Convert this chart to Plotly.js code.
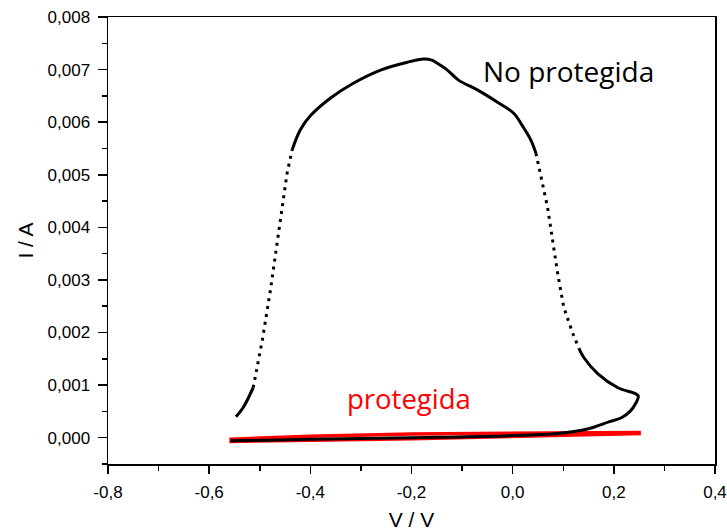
<!DOCTYPE html>
<html>
<head>
<meta charset="utf-8">
<script src="https://cdn.plot.ly/plotly-3.0.1.min.js"></script>
<style>html,body{margin:0;padding:0;background:#fff;}#chart{width:727px;height:531px;}</style>
</head>
<body>
<div id="chart"></div>
<script>
// "No protegida" curve, split into segments (solid where dense, dotted where sparse)
const npStartV = [-0.547, -0.533, -0.513];
const npStartI = [0.00040, 0.00057, 0.00095];
const npRiseV = [-0.513, -0.495, -0.479, -0.465, -0.455, -0.446, -0.436];
const npRiseI = [0.00095, 0.00185, 0.00280, 0.00375, 0.00450, 0.00503, 0.00547];
const npTopV = [-0.436, -0.420, -0.400, -0.360, -0.315, -0.261, -0.208, -0.176, -0.160, -0.149, -0.129, -0.107, -0.069, -0.030, 0.002, 0.020, 0.036, 0.046];
const npTopI = [0.00547, 0.00585, 0.00612, 0.00646, 0.00674, 0.00699, 0.00714, 0.00720, 0.00718, 0.00712, 0.00699, 0.00680, 0.00661, 0.00638, 0.00617, 0.00592, 0.00566, 0.00541];
const npFallV = [0.046, 0.055, 0.069, 0.079, 0.089, 0.101, 0.119, 0.131];
const npFallI = [0.00541, 0.00503, 0.00438, 0.00375, 0.00312, 0.00248, 0.00198, 0.00170];
const npTailV = [0.131, 0.141, 0.168, 0.208, 0.248, 0.243, 0.232, 0.215, 0.190, 0.150, 0.100, 0.000, -0.200, -0.400, -0.558];
const npTailI = [0.00170, 0.00152, 0.00122, 0.00095, 0.00080, 0.00065, 0.00050, 0.00038, 0.00030, 0.00017, 0.00009, 0.00004, 0.00000, -0.00003, -0.00006];

// "protegida" curve (thin loop)
const pV = [-0.560, -0.400, -0.200, 0.000, 0.250, 0.250, 0.000, -0.200, -0.400, -0.560];
const pI = [-0.00003, 0.00003, 0.00007, 0.00009, 0.00010, 0.00008, 0.00002, -0.00002, -0.00005, -0.00007];

const labels = ["No protegida", "protegida"];
const xTickVals = [-0.8, -0.6, -0.4, -0.2, 0.0, 0.2, 0.4];
const xTickText = ["-0,8", "-0,6", "-0,4", "-0,2", "0,0", "0,2", "0,4"];

const blackSolid = {color: '#000', width: 3};
const blackDot = {color: '#000', width: 3, dash: '3px,5px'};

const traces = [
  {x: pV, y: pI, mode: 'lines', line: {color: '#ff0000', width: 3.5}, hoverinfo: 'skip'},
  {x: npStartV, y: npStartI, mode: 'lines', line: Object.assign({shape: 'spline'}, blackSolid)},
  {x: npRiseV, y: npRiseI, mode: 'lines', line: blackDot},
  {x: npTopV, y: npTopI, mode: 'lines', line: Object.assign({shape: 'spline'}, blackSolid)},
  {x: npFallV, y: npFallI, mode: 'lines', line: blackDot},
  {x: npTailV, y: npTailI, mode: 'lines', line: Object.assign({shape: 'spline'}, blackSolid)}
];

const tickFont = {family: 'Liberation Sans, Arial, sans-serif', size: 17, color: '#000'};
const titleFont = {family: 'Liberation Sans, Arial, sans-serif', size: 21, color: '#000'};

const layout = {
  width: 727, height: 531,
  margin: {l: 108, r: 12, t: 17, b: 67},
  paper_bgcolor: '#fff', plot_bgcolor: '#fff',
  showlegend: false,
  separators: ',.',
  xaxis: {
    range: [-0.8, 0.4], tickmode: 'array', tickvals: xTickVals, ticktext: xTickText,
    showgrid: false, zeroline: false,
    showline: true, mirror: true, linecolor: '#000', linewidth: 1.5,
    ticks: 'outside', ticklen: 8, tickwidth: 1.5, tickcolor: '#000',
    minor: {dtick: 0.1, tick0: 0, ticks: 'outside', ticklen: 5, tickwidth: 1.5, tickcolor: '#000', showgrid: false},
    tickfont: tickFont, ticklabelstandoff: 4,
    title: {text: 'V / V', font: titleFont, standoff: 12}
  },
  yaxis: {
    range: [-0.0005, 0.008], dtick: 0.001, tick0: 0, tickformat: '.3f',
    showgrid: false, zeroline: false,
    showline: true, mirror: true, linecolor: '#000', linewidth: 1.5,
    ticks: 'outside', ticklen: 9, tickwidth: 1.5, tickcolor: '#000',
    minor: {dtick: 0.0005, ticks: 'outside', ticklen: 5, tickwidth: 1.5, tickcolor: '#000', showgrid: false},
    tickfont: tickFont, ticklabelstandoff: 4,
    title: {text: 'I / A', font: titleFont, standoff: 8}
  },
  annotations: [
    {x: 0.111, y: 0.00697, xref: 'x', yref: 'y', text: labels[0], showarrow: false,
     xanchor: 'center', yanchor: 'middle', font: {family: 'Open Sans, sans-serif', size: 28, color: '#000'}},
    {x: -0.204, y: 0.00075, xref: 'x', yref: 'y', text: labels[1], showarrow: false,
     xanchor: 'center', yanchor: 'middle', font: {family: 'Open Sans, sans-serif', size: 27.5, color: '#ff0000'}}
  ]
};

Plotly.newPlot('chart', traces, layout, {displayModeBar: false, staticPlot: true});
</script>
</body>
</html>
